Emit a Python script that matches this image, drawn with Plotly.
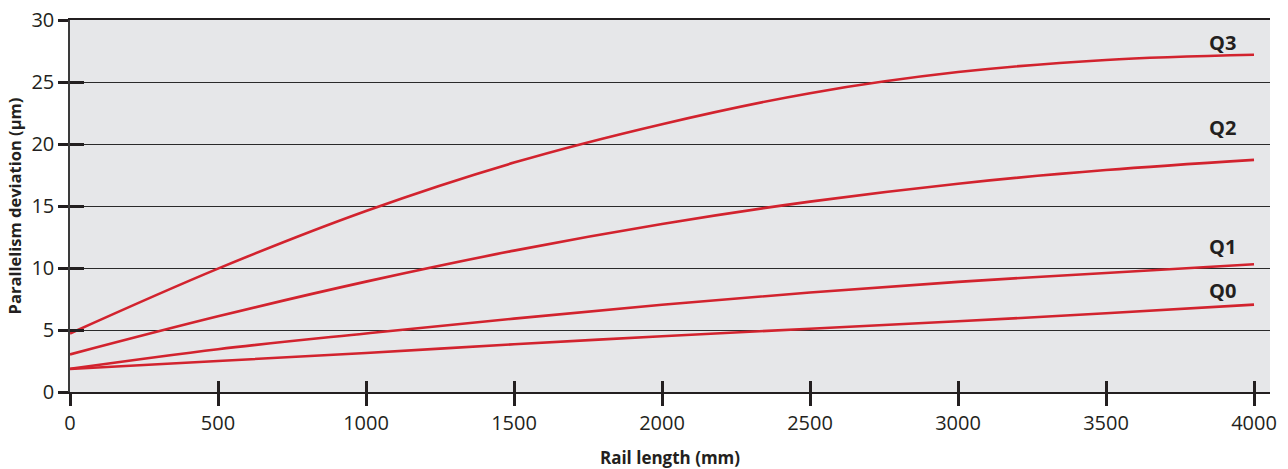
import plotly.graph_objects as go

rail_length = [0, 500, 1000, 1500, 2000, 2500, 3000, 3500, 4000]
q3 = [4.72, 9.95, 14.6, 18.5, 21.6, 24.1, 25.8, 26.78, 27.2]
q2 = [3.03, 6.1, 8.9, 11.4, 13.55, 15.35, 16.8, 17.9, 18.72]
q1 = [1.87, 3.45, 4.72, 5.92, 7.03, 8.03, 8.88, 9.6, 10.3]
q0 = [1.85, 2.5, 3.15, 3.85, 4.5, 5.1, 5.7, 6.35, 7.05]
series = {"Q3": q3, "Q2": q2, "Q1": q1, "Q0": q0}
label_pos = {"Q3": 28.2, "Q2": 21.3, "Q1": 11.7, "Q0": 8.2}
x_ticks = [0, 500, 1000, 1500, 2000, 2500, 3000, 3500, 4000]
y_ticks = [0, 5, 10, 15, 20, 25, 30]

RED = "#d2232e"
FONT = "Open Sans"

fig = go.Figure()
for name, vals in series.items():
    fig.add_trace(go.Scatter(x=rail_length, y=vals, mode="lines", name=name,
                             line=dict(color=RED, width=2.6, shape="spline", smoothing=1.0),
                             hoverinfo="skip", showlegend=False))
    fig.add_annotation(x=3895, y=label_pos[name], text="<b>%s</b>" % name, showarrow=False,
                       font=dict(family=FONT, size=20, color="#231f20"))

# helper overlay axes for inward tick halves
fig.add_trace(go.Scatter(x=[0], y=[0], xaxis="x2", yaxis="y2", mode="markers",
                         marker=dict(opacity=0), hoverinfo="skip", showlegend=False))

fig.update_layout(
    width=1288, height=469,
    margin=dict(l=70, r=18, t=20, b=77),
    paper_bgcolor="white", plot_bgcolor="#e6e7e9",
    font=dict(family=FONT, size=20, color="#231f20"),
    xaxis=dict(range=[0, 4054], tickvals=x_ticks, showgrid=False, zeroline=False, automargin=False,
               showline=True, mirror=True, linecolor="#231f20", linewidth=1.5,
               ticks="outside", ticklen=12, tickwidth=2.5, tickcolor="#231f20",
               tickfont=dict(size=20),
               title=dict(text="<b>Rail length (mm)</b>", font=dict(size=17), standoff=21)),
    yaxis=dict(range=[0, 30], tickvals=y_ticks, showgrid=True, gridcolor="#2a2a2a", gridwidth=1,
               zeroline=False, showline=True, linecolor="#3a3a3a", linewidth=1.5, automargin=False,
               ticks="outside", ticklen=10, tickwidth=2.5, tickcolor="#231f20",
               tickfont=dict(size=20),
               title=dict(text="<b>Parallelism deviation (µm)</b>", font=dict(size=16.5), standoff=6)),
    xaxis2=dict(range=[0, 4054], overlaying="x", side="bottom", anchor="y2", automargin=False,
                tickvals=x_ticks, showticklabels=False, showgrid=False, zeroline=False,
                ticks="inside", ticklen=11, tickwidth=2.5, tickcolor="#231f20"),
    yaxis2=dict(range=[0, 30], overlaying="y", side="left", anchor="x2", automargin=False,
                tickvals=y_ticks, showticklabels=False, showgrid=False, zeroline=False,
                ticks="inside", ticklen=14, tickwidth=2.5, tickcolor="#231f20"),
)

fig.write_html("out.html", config={"displayModeBar": False},
               post_script="document.body.style.margin='0';document.body.style.overflow='hidden';")
